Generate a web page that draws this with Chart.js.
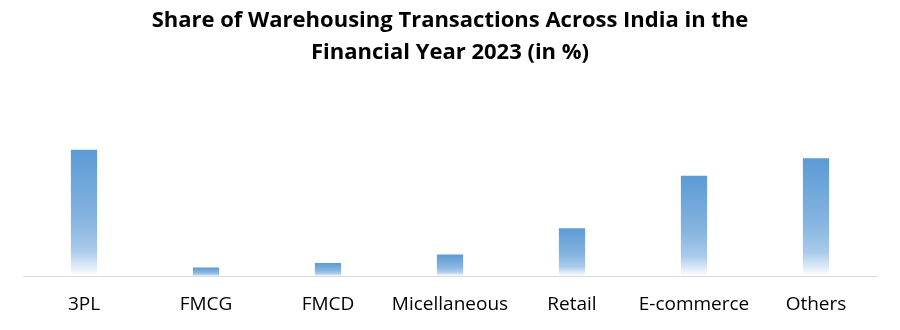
<!DOCTYPE html>
<html>
<head>
<meta charset="utf-8">
<script src="https://cdn.jsdelivr.net/npm/chart.js@4.4.1/dist/chart.umd.min.js"></script>
<style>
  html, body { margin: 0; padding: 0; background: #fff; }
  #wrap { width: 900px; height: 330px; }
</style>
</head>
<body>
<div id="wrap"><canvas id="myChart"></canvas></div>
<script>
const categories = ['3PL', 'FMCG', 'FMCD', 'Micellaneous', 'Retail', 'E-commerce', 'Others'];
const shares = [29, 2, 3, 5, 11, 23, 27];
const titleLines = ['Share of Warehousing Transactions Across India in the', 'Financial Year 2023 (in %)'];

const ctx = document.getElementById('myChart');

Chart.defaults.font.family = "'Open Sans', sans-serif";
Chart.defaults.color = '#000';

new Chart(ctx, {
    type: 'bar',
    data: {
        labels: categories,
        datasets: [{
            data: shares,
            borderWidth: 0,
            barPercentage: 0.43,
            categoryPercentage: 0.5,
            backgroundColor: (context) => {
                const chart = context.chart;
                const { ctx, chartArea, scales } = chart;
                if (!chartArea || context.type !== 'data') {
                    return '#5b9bd5';
                }
                return getGradient(ctx, scales, context.parsed.y);
            }
        }]
    },
    options: {
        responsive: true,
        maintainAspectRatio: false,
        animation: false,
        layout: {
            padding: { left: 23, right: 23, bottom: -3 }
        },
        scales: {
            y: {
                display: false,
                min: 0,
                max: 45
            },
            x: {
                grid: { display: false, drawTicks: false },
                border: { display: true, color: '#d9d9d9', width: 1 },
                ticks: {
                    padding: 17,
                    font: { size: 19 },
                    color: '#000',
                    maxRotation: 0
                }
            }
        },
        plugins: {
            legend: { display: false },
            tooltip: { enabled: false },
            title: {
                display: true,
                text: titleLines,
                color: '#000',
                font: { size: 22, weight: 'bold', lineHeight: 1.45 },
                padding: { top: 5, bottom: 11 }
            }
        }
    }
});

function getGradient(ctx, scales, value) {
    const top = scales.y.getPixelForValue(value);
    const base = scales.y.getPixelForValue(0);
    const gradientBg = ctx.createLinearGradient(0, top, 0, base);

    gradientBg.addColorStop(0, '#5b9bd5');
    gradientBg.addColorStop(0.55, '#86b4e0');
    gradientBg.addColorStop(0.8, '#a9cbeb');
    gradientBg.addColorStop(1, '#ffffff');

    return gradientBg;
}
</script>
</body>
</html>
